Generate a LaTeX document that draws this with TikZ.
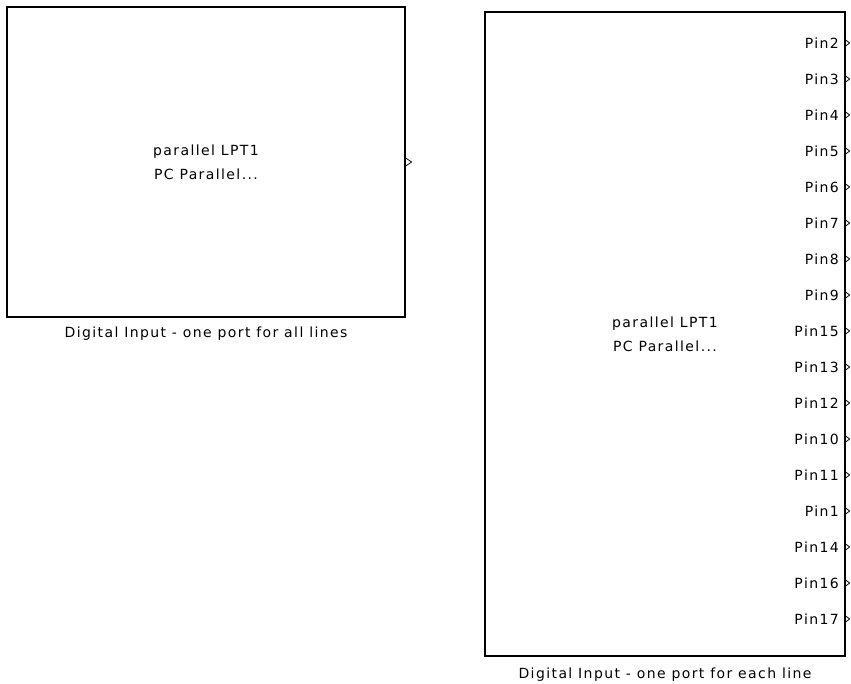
\documentclass[tikz,border=0pt]{standalone}
\usepackage{fontspec}
\setmainfont{DejaVu Sans}[LetterSpace=10]
\usetikzlibrary{positioning}

\begin{document}
\begin{tikzpicture}[x=1pt,y=-1pt,
                       block/.style={draw,line width=1.2pt,inner sep=0pt,align=center,
                                     font=\fontsize{14}{24}\selectfont},
                       caption/.style={inner sep=0pt,font=\fontsize{14}{16}\selectfont},
                       pin label/.style={inner sep=0pt,anchor=east,font=\fontsize{14}{16}\selectfont},
                       port/.style={line width=0.8pt}
                      ]
  \useasboundingbox (0,0) rectangle (851,684);

  % one port for all lines
  \node[block,minimum width=398pt,minimum height=310pt] (all) at (206,162)
       {parallel LPT1\\PC Parallel...};
  \node[caption,below=9pt of all] (allcap) {Digital Input - one port for all lines};
  \draw[port] ([yshift=4pt]all.east) -- ++(6pt,-4pt) -- ++(-6pt,-4pt);

  % one port for each line
  \node[block,minimum width=360pt,minimum height=644pt] (each) at (665,334)
       {parallel LPT1\\PC Parallel...};
  \node[caption,below=11pt of each] (eachcap) {Digital Input - one port for each line};

  \foreach \p [count=\i] in {2,3,4,5,6,7,8,9,15,13,12,10,11,1,14,16,17} {
    \node[pin label] (pin\p) at (839,{7+\i*36}) {Pin\p};
    \draw[port] ([yshift=3pt]each.east |- pin\p) -- ++(4pt,-3pt) -- ++(-4pt,-3pt);
  }
\end{tikzpicture}
\end{document}
